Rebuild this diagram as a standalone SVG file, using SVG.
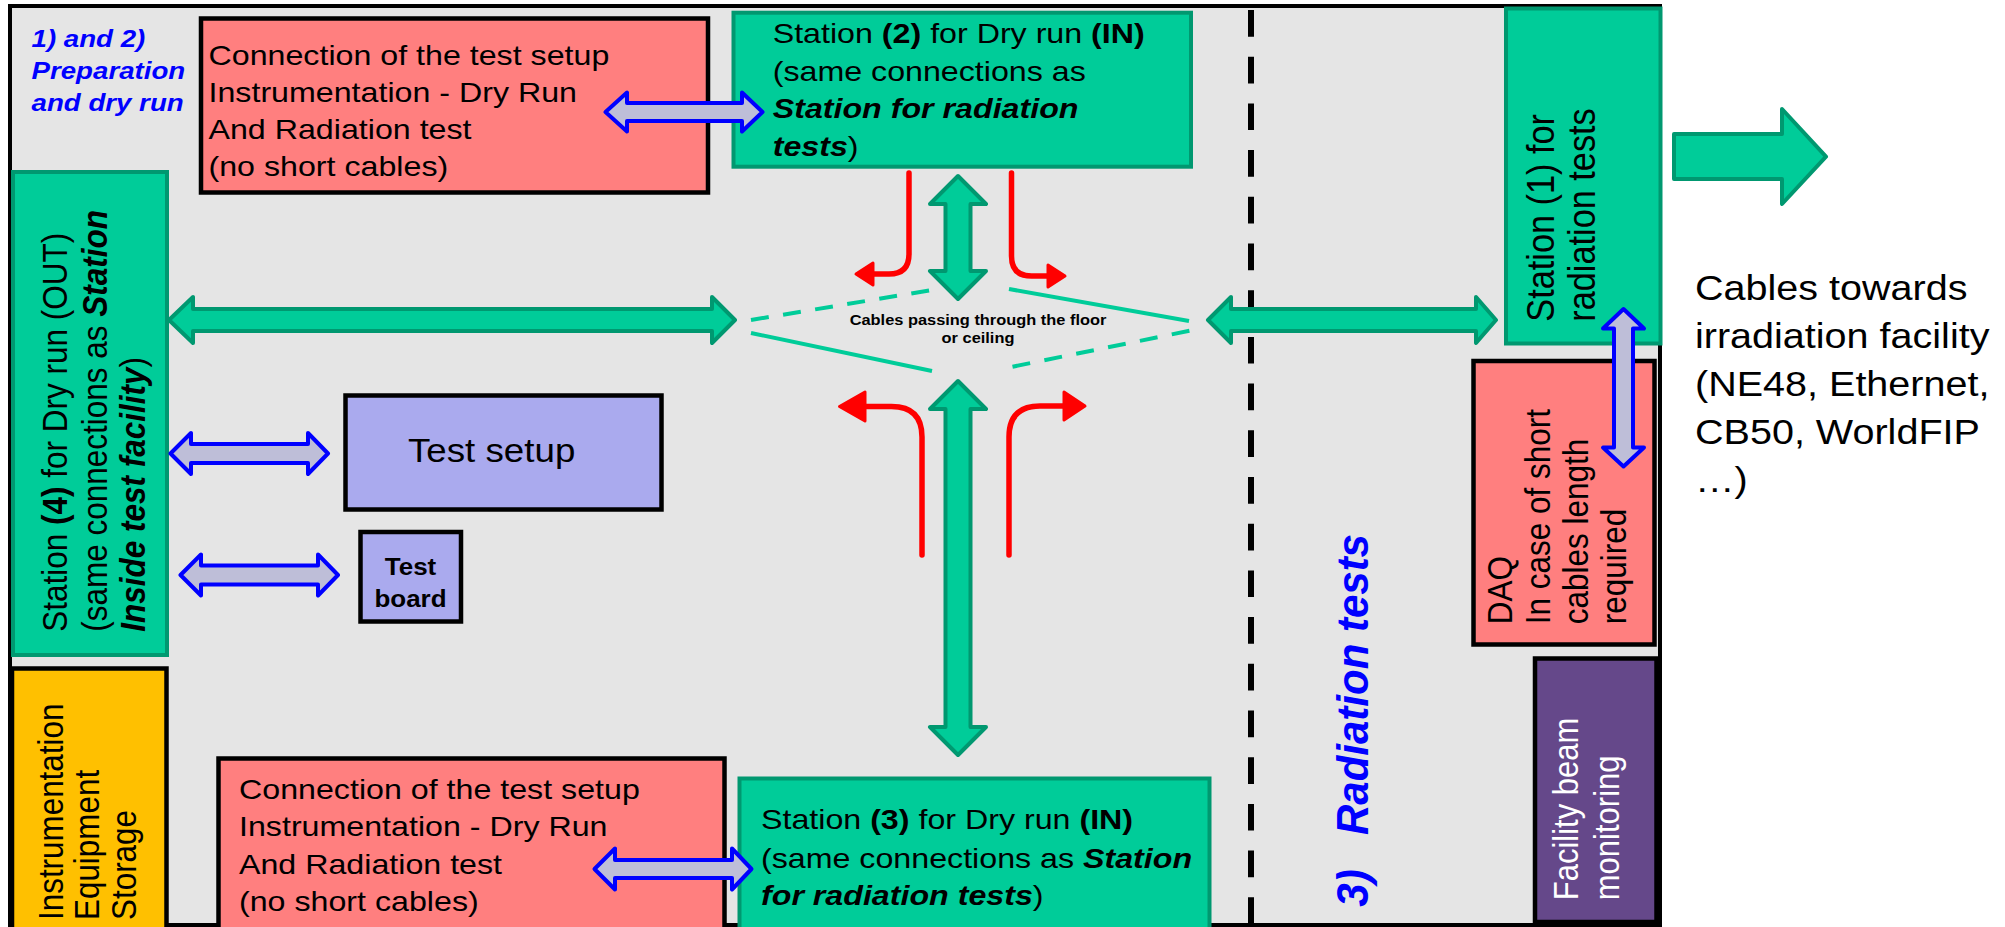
<svg xmlns="http://www.w3.org/2000/svg" width="2005" height="927" viewBox="0 0 2005 927">
  <style>
    .t { font-family: "Liberation Sans", Arial, sans-serif; fill: #000; }
    .b { font-weight: bold; }
    .bi { font-weight: bold; font-style: italic; }
    .blue { fill: #0000FF; }
    .white { fill: #FFFFFF; }
    .station { fill: #00CC99; stroke: #009870; stroke-width: 4; }
    .redbox { fill: #FF7F7F; stroke: #000; stroke-width: 4.5; }
    .lav { fill: #AAAAEE; stroke: #000; stroke-width: 4.5; }
    .orange { fill: #FFC000; stroke: #000; stroke-width: 4.5; }
    .purple { fill: #65488A; stroke: #000; stroke-width: 4.5; }
    .garrow { fill: #00CC99; stroke: #009870; stroke-width: 4; stroke-linejoin: round; }
    .barrow { fill: #BEBED8; stroke: #0000FF; stroke-width: 4; stroke-linejoin: round; }
    .redline { fill: none; stroke: #FF0000; stroke-width: 5.5; stroke-linecap: round; }
    .redhead { fill: #FF0000; stroke: #FF0000; stroke-width: 3; stroke-linejoin: round; }
    .cross { fill: none; stroke: #00CC99; stroke-width: 4; }
    .dashed { stroke-dasharray: 18 14.5; }
  </style>

  <!-- room outline and zone divider -->
  <rect x="10" y="6" width="1650" height="919" fill="#E5E5E5" stroke="#000" stroke-width="4"/>
  <line x1="1251" y1="10" x2="1251" y2="923" stroke="#000" stroke-width="6" stroke-dasharray="26.7 20"/>

  <!-- zone labels -->
  <g id="label-preparation" transform="translate(31.5,0) scale(1.13,1)">
    <text class="t bi blue" font-size="24.5" x="0" y="47">1) and 2)</text>
    <text class="t bi blue" font-size="24.5" x="0" y="79">Preparation</text>
    <text class="t bi blue" font-size="24.5" x="0" y="111">and dry run</text>
  </g>
  <g id="label-radiation" transform="translate(1368,906.7) scale(1.06,1) rotate(-90)">
    <text class="t bi blue" font-size="42"><tspan x="0" y="0">3)</tspan><tspan x="71.7" y="0">Radiation tests</tspan></text>
  </g>

  <!-- nodes -->
  <g id="connection-top">
    <rect class="redbox" x="201" y="18.5" width="507" height="174"/>
    <g transform="translate(208.5,0) scale(1.13,1)">
      <text class="t" font-size="28.5" x="0" y="65">Connection of the test setup</text>
      <text class="t" font-size="28.5" x="0" y="102">Instrumentation - Dry Run</text>
      <text class="t" font-size="28.5" x="0" y="139">And Radiation test</text>
      <text class="t" font-size="28.5" x="0" y="176">(no short cables)</text>
    </g>
  </g>

  <g id="station-2">
    <rect class="station" x="733.5" y="12.7" width="457.5" height="154"/>
    <g transform="translate(772.7,0) scale(1.13,1)">
      <text class="t" font-size="28.5" x="0" y="43.5">Station <tspan class="b">(2)</tspan> for Dry run <tspan class="b">(IN)</tspan></text>
      <text class="t" font-size="28.5" x="0" y="81">(same connections as</text>
      <text class="t bi" font-size="28.5" x="0" y="118.5">Station for radiation</text>
      <text class="t" font-size="28.5" x="0" y="156"><tspan class="bi">tests</tspan>)</text>
    </g>
  </g>

  <g id="station-1">
    <rect class="station" x="1506" y="8.5" width="154.5" height="335"/>
    <g transform="translate(1554,321.7) scale(1.13,1) rotate(-90)">
      <text class="t" font-size="34.3" x="0" y="0">Station (1) for</text>
      <text class="t" font-size="34.3" x="0" y="36.1">radiation tests</text>
    </g>
  </g>

  <g id="station-4">
    <rect class="station" x="13" y="172" width="154" height="483"/>
    <g transform="translate(66.7,631.7) scale(1.13,1) rotate(-90)">
      <text class="t" font-size="31.5" x="0" y="0">Station <tspan class="b">(4)</tspan> for Dry run (OUT)</text>
      <text class="t" font-size="31.5" x="0" y="35.7">(same connections as <tspan class="bi">Station</tspan></text>
      <text class="t" font-size="31.5" x="0" y="69.3"><tspan class="bi">Inside test facility</tspan>)</text>
    </g>
  </g>

  <g id="test-setup">
    <rect class="lav" x="345.5" y="395.5" width="316" height="114"/>
    <g transform="translate(408,0) scale(1.13,1)">
      <text class="t" font-size="32.5" x="0" y="461.7">Test setup</text>
    </g>
  </g>

  <g id="test-board">
    <rect class="lav" x="360.5" y="532" width="100.5" height="89.5"/>
    <g transform="translate(410.5,0) scale(1.13,1)">
      <text class="t b" font-size="23" x="0" y="575" text-anchor="middle">Test</text>
      <text class="t b" font-size="23" x="0" y="607.3" text-anchor="middle">board</text>
    </g>
  </g>

  <g id="instrumentation-storage">
    <rect class="orange" x="12" y="668.5" width="154.5" height="270"/>
    <g transform="translate(63,920) scale(1.13,1) rotate(-90)">
      <text class="t" font-size="31.4" x="0" y="0">Instrumentation</text>
      <text class="t" font-size="31.4" x="0" y="32.2">Equipment</text>
      <text class="t" font-size="31.4" x="0" y="64.2">Storage</text>
    </g>
  </g>

  <g id="connection-bottom">
    <rect class="redbox" x="218.5" y="758.5" width="506" height="180"/>
    <g transform="translate(239,0) scale(1.13,1)">
      <text class="t" font-size="28.5" x="0" y="799">Connection of the test setup</text>
      <text class="t" font-size="28.5" x="0" y="836.5">Instrumentation - Dry Run</text>
      <text class="t" font-size="28.5" x="0" y="874">And Radiation test</text>
      <text class="t" font-size="28.5" x="0" y="911.5">(no short cables)</text>
    </g>
  </g>

  <g id="station-3">
    <rect class="station" x="739.5" y="778.5" width="470" height="160"/>
    <g transform="translate(761,0) scale(1.13,1)">
      <text class="t" font-size="28.5" x="0" y="829.5">Station <tspan class="b">(3)</tspan> for Dry run <tspan class="b">(IN)</tspan></text>
      <text class="t" font-size="28.5" x="0" y="868.3">(same connections as <tspan class="bi">Station</tspan></text>
      <text class="t" font-size="28.5" x="0" y="905"><tspan class="bi">for radiation tests</tspan>)</text>
    </g>
  </g>

  <g id="daq">
    <rect class="redbox" x="1473.5" y="361" width="181" height="283.5"/>
    <g transform="translate(1511.5,624.2) scale(1.13,1) rotate(-90)">
      <text class="t" font-size="31.5" x="0" y="0">DAQ</text>
      <text class="t" font-size="31.5" x="0" y="34">In case of short</text>
      <text class="t" font-size="31.5" x="0" y="68">cables length</text>
      <text class="t" font-size="31.5" x="0" y="101">required</text>
    </g>
  </g>

  <g id="beam-monitoring">
    <rect class="purple" x="1535" y="658.5" width="121.5" height="263.5"/>
    <g transform="translate(1578,900.2) scale(1.13,1) rotate(-90)">
      <text class="t white" font-size="31" x="0" y="0">Facility beam</text>
      <text class="t white" font-size="31" x="0" y="36">monitoring</text>
    </g>
  </g>

  <g id="floor-passage">
    <g transform="translate(978,0) scale(1.13,1)">
      <text class="t b" font-size="14.5" x="0" y="325" text-anchor="middle">Cables passing through the floor</text>
      <text class="t b" font-size="14.5" x="0" y="343.5" text-anchor="middle">or ceiling</text>
    </g>
  </g>

  <g id="irradiation-cables">
    <g transform="translate(1695,0) scale(1.13,1)">
      <text class="t" font-size="35" x="0" y="300">Cables towards</text>
      <text class="t" font-size="35" x="0" y="348">irradiation facility</text>
      <text class="t" font-size="35" x="0" y="396">(NE48, Ethernet,</text>
      <text class="t" font-size="35" x="0" y="444">CB50, WorldFIP</text>
      <text class="t" font-size="35" x="0" y="492">…)</text>
    </g>
  </g>

  <!-- connectors -->
  <g id="connectors">
    <!-- floor / ceiling crossing outline -->
    <line class="cross dashed" x1="751" y1="320" x2="932" y2="290"/>
    <line class="cross" x1="751" y1="333" x2="932" y2="371"/>
    <line class="cross" x1="1009" y1="289" x2="1189" y2="321"/>
    <line class="cross dashed" x1="1012.5" y1="366.7" x2="1190" y2="330.7"/>

    <!-- main cable routes -->
    <path class="garrow" d="M169,320 L193,297 L193,309 L712,309 L712,297 L735,320 L712,343 L712,331 L193,331 L193,343 Z"/>
    <path class="garrow" d="M1208,320 L1231,297 L1231,309 L1476,309 L1476,297 L1496,320 L1476,343 L1476,331 L1231,331 L1231,343 Z"/>
    <path class="garrow" d="M958,176 L986,204 L970.5,204 L970.5,271 L986,271 L958,299 L930,271 L945.5,271 L945.5,204 L930,204 Z"/>
    <path class="garrow" d="M958,381 L986,409 L970.5,409 L970.5,727 L986,727 L958,755 L930,727 L945.5,727 L945.5,409 L930,409 Z"/>
    <path class="garrow" d="M1674,134 L1782,134 L1782,109 L1826,156.7 L1782,204 L1782,179 L1674,179 Z"/>

    <!-- branching cables -->
    <path class="redline" d="M909,173 L909,254 Q909,274 889,274 L872,274"/>
    <polygon class="redhead" points="856,274 873,263 873,285"/>
    <path class="redline" d="M1011.5,173 L1011.5,256 Q1011.5,276 1031.5,276 L1049,276"/>
    <polygon class="redhead" points="1065,276 1048,265 1048,287"/>
    <path class="redline" d="M922,555 L922,437 Q922,406.5 891.5,406.5 L864,406.5"/>
    <polygon class="redhead" points="839.5,406.5 865,392 865,421"/>
    <path class="redline" d="M1009,555 L1009,437 Q1009,406 1040,406 L1065,406"/>
    <polygon class="redhead" points="1085,406 1064,392 1064,420"/>

    <!-- local connections -->
    <path class="barrow" d="M605.5,112 L627,92.5 L627,103 L742,103 L742,92.5 L762.5,112 L742,131.5 L742,121 L627,121 L627,131.5 Z"/>
    <path class="barrow" d="M594.5,869 L615,848.5 L615,860 L732,860 L732,848.5 L751.5,869 L732,889.5 L732,878 L615,878 L615,889.5 Z"/>
    <path class="barrow" d="M170.5,453.5 L191,433 L191,444 L308,444 L308,433 L328,453.5 L308,474 L308,463 L191,463 L191,474 Z"/>
    <path class="barrow" d="M180.5,575 L201,554.5 L201,565.5 L318,565.5 L318,554.5 L338,575 L318,595.5 L318,584.5 L201,584.5 L201,595.5 Z"/>
    <path class="barrow" d="M1623.5,309 L1644,328.5 L1633,328.5 L1633,447.5 L1644,447.5 L1623.5,466.5 L1603,447.5 L1614,447.5 L1614,328.5 L1603,328.5 Z"/>
  </g>
</svg>
